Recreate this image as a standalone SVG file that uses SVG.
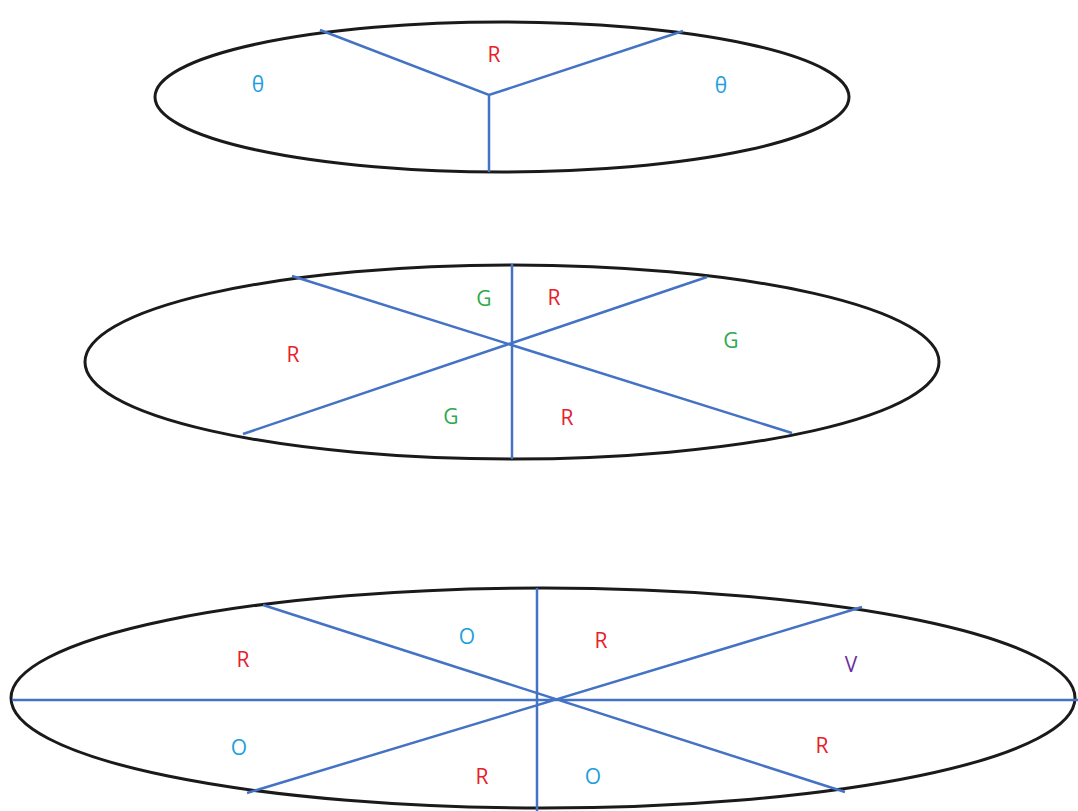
<svg xmlns="http://www.w3.org/2000/svg" width="1078" height="811" viewBox="0 0 1078 811">
<style>
.ell{fill:none;stroke:#1a1a1a;stroke-width:3}
.ln{stroke:#4472c4;stroke-width:2.5;fill:none}
text{font-family:"Open Sans","Liberation Sans",sans-serif;font-size:21px;text-anchor:middle;dominant-baseline:central}
.r{fill:#e8202a}.g{fill:#2ea84e}.o{fill:#1ea0dc}.v{fill:#6a2fa0}
</style>
<rect width="1078" height="811" fill="#fff"/>
<g id="disc1">
<ellipse class="ell" cx="502" cy="97" rx="347" ry="75"/>
</g>
<g id="disc2">
<ellipse class="ell" cx="512" cy="362" rx="427" ry="97"/>
</g>
<g id="disc3">
<ellipse class="ell" cx="543" cy="698" rx="532" ry="110"/>
</g>
<g id="connectors">
<path class="ln" d="M320 30 L489 95 L683 31 M489 95 L489 172"/>
<path class="ln" d="M512 264 V459 M292 276 L792 433 M243 434 L707 277"/>
<path class="ln" d="M12 700 H1078 M537 588 V811 M263 605 L845 792 M247 793 L862 607"/>
</g>
<g id="labels1">
<text class="o" x="258" y="84">θ</text>
<text class="r" x="494" y="54">R</text>
<text class="o" x="721" y="85">θ</text>
</g>
<g id="labels2">
<text class="g" x="484" y="298">G</text>
<text class="r" x="554" y="297">R</text>
<text class="r" x="293" y="354">R</text>
<text class="g" x="731" y="340">G</text>
<text class="g" x="451" y="416">G</text>
<text class="r" x="567" y="417">R</text>
</g>
<g id="labels3">
<text class="r" x="243" y="659">R</text>
<text class="o" x="467" y="636">O</text>
<text class="r" x="601" y="640">R</text>
<text class="v" x="851" y="664">V</text>
<text class="o" x="239" y="747">O</text>
<text class="r" x="482" y="776">R</text>
<text class="o" x="593" y="776">O</text>
<text class="r" x="822" y="745">R</text>
</g>
</svg>
